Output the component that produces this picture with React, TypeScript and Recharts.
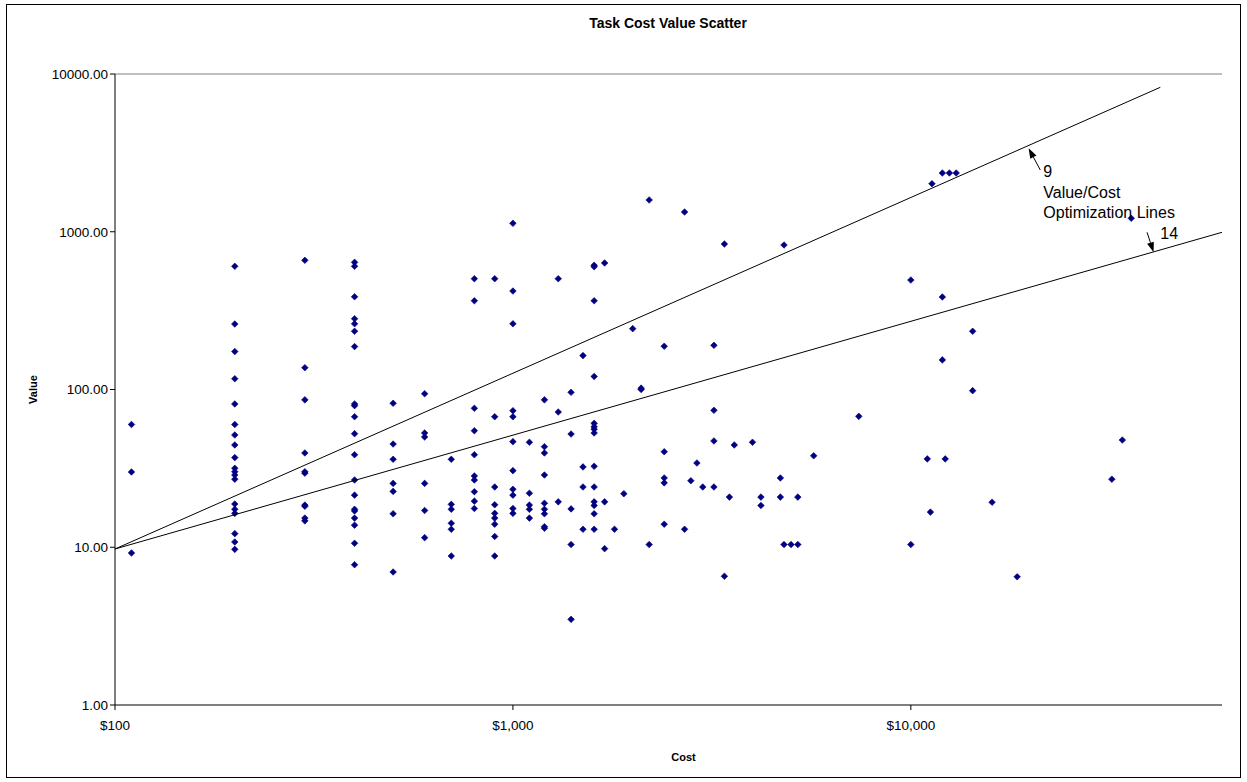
import React from 'react';
import {
  ScatterChart,
  Scatter,
  XAxis,
  YAxis,
  ReferenceLine,
  ReferenceDot,
  Label,
} from 'recharts';

// task cost levels and the values of the tasks at each cost
const costLevels = [
  110, 200, 300, 400, 500, 600, 700, 800, 900, 1000, 1100, 1200, 1300, 1400,
  1500, 1600, 1700, 1800, 1900, 2000, 2100, 2200, 2400, 2700, 2800, 2900, 3000,
  3200, 3400, 3500, 3600, 4000, 4200, 4700, 4800, 5000, 5200, 5700, 7400,
  10000, 11000, 11200, 11300, 12000, 12200, 12500, 13000, 14300, 16000, 18500,
  32000, 34000, 35800,
];

const taskValues: number[][] = [
  [60, 30, 9.2],
  [604, 260, 174, 117, 81, 60, 51.5, 44.5, 37, 31.7, 30.1, 28.7, 27, 18.8, 17.4, 16.4, 12.2, 10.8, 9.7],
  [659, 137.5, 86, 39.6, 30.1, 29.5, 18.5, 18.2, 15.3, 14.7],
  [640, 604, 387, 281, 261, 234, 187, 81, 79, 67.2, 52.5, 38.6, 26.7, 21.4, 17.4, 17, 15.3, 13.8, 10.6, 7.75],
  [81.8, 45.1, 36.1, 25.4, 22.6, 16.3, 6.97],
  [94, 53, 50, 25.4, 17.1, 11.5],
  [36.1, 18.7, 17.4, 14.2, 13.0, 8.8],
  [504, 365, 76, 54.8, 38.6, 28.3, 26.7, 22.5, 19.6, 17.6],
  [504, 67.2, 24.1, 18.6, 16.4, 15.3, 14.0, 11.7, 8.8],
  [1131, 421, 261, 73.4, 67.2, 46.7, 30.6, 23.3, 21.4, 17.6, 16.4],
  [46.3, 22.0, 18.5, 17.4, 15.3],
  [86, 43.4, 39.6, 28.7, 19.0, 17.4, 16.3, 13.5, 13.2],
  [504, 72, 19.4],
  [96, 52.2, 17.5, 10.4, 3.49],
  [164, 32.3, 24.1, 13.0],
  [613, 600, 365, 121, 61, 58, 56, 53, 32.6, 24.1, 19.4, 18.4, 16.3, 13.0],
  [634, 19.4, 9.8],
  [13.0],
  [21.85],
  [243],
  [102, 100],
  [1590, 10.4],
  [188, 40.3, 27.5, 25.6, 14.0],
  [1334, 13.0],
  [26.4],
  [34.2],
  [24.1],
  [190.6, 73.8, 47.2, 24.1],
  [836, 6.55],
  [20.8],
  [44.5],
  [46.3],
  [20.8, 18.4],
  [27.5, 20.8],
  [824, 10.4],
  [10.4],
  [20.8, 10.4],
  [38.0],
  [67.6],
  [494, 10.4],
  [36.3],
  [16.7],
  [2017],
  [2357, 386, 154],
  [36.3],
  [2357],
  [2357],
  [234, 98.3],
  [19.3],
  [6.5],
  [27],
  [47.8],
  [1217],
];

// value/cost optimization lines (end points)
const lineCost9 = [100, 42360];
const lineValue9 = [9.75, 8236];
const lineCost14 = [100, 60530];
const lineValue14 = [9.75, 992];

const costTicks = [100, 1000, 10000];
const valueTicks = [1, 10, 100, 1000, 10000];

const FONT = '"Liberation Sans", Arial, sans-serif';

const points = costLevels.flatMap((c, i) => taskValues[i].map((v) => ({ x: c, y: v })));
const line9 = lineCost9.map((c, i) => ({ x: c, y: lineValue9[i] }));
const line14 = lineCost14.map((c, i) => ({ x: c, y: lineValue14[i] }));

const Diamond = (props: any) => {
  const { cx, cy } = props;
  const h = 3.3;
  return (
    <polygon
      points={`${cx},${cy - h} ${cx + h},${cy} ${cx},${cy + h} ${cx - h},${cy}`}
      fill="#000080"
      stroke="#000080"
      strokeWidth={0.6}
    />
  );
};

const Arrow = (props: any) => {
  const { x1, y1, x2, y2 } = props;
  const ang = Math.atan2(y2 - y1, x2 - x1);
  const len = 10;
  const w = 3.5;
  const bx = x2 - len * Math.cos(ang);
  const by = y2 - len * Math.sin(ang);
  const s = Math.sin(ang);
  const c = Math.cos(ang);
  return (
    <g>
      <line x1={x1} y1={y1} x2={bx} y2={by} stroke="#000" strokeWidth={1} />
      <polygon
        points={`${x2},${y2} ${bx - w * s},${by + w * c} ${bx + w * s},${by - w * c}`}
        fill="#000"
      />
    </g>
  );
};

const noDot = () => <g />;

const NoteText = (lines: string[]) => (props: any) => (
  <text x={props.cx} y={props.cy} fontSize={16} fontFamily={FONT} fill="#000">
    {lines.map((t, i) => (
      <tspan key={i} x={props.cx} dy={i === 0 ? 0 : 20.5}>
        {t}
      </tspan>
    ))}
  </text>
);

export default function App() {
  return (
    <div
      style={{
        position: 'absolute',
        left: 0,
        top: 0,
        width: 1247,
        height: 782,
        background: '#fff',
        fontFamily: FONT,
      }}
    >
      <div
        style={{
          position: 'absolute',
          left: 6,
          top: 4,
          right: 6,
          bottom: 4,
          border: '1px solid #000',
        }}
      />
      <div
        style={{
          position: 'absolute',
          left: 468,
          width: 400,
          top: 15,
          textAlign: 'center',
          fontWeight: 'bold',
          fontSize: 14,
        }}
      >
        Task Cost Value Scatter
      </div>
      <div style={{ position: 'absolute', left: 0, top: 0 }}>
        <ScatterChart width={1247} height={782} margin={{ top: 74, right: 25, bottom: 0, left: 0 }}>
          <XAxis
            dataKey="x"
            type="number"
            scale="log"
            domain={[100, 60530]}
            allowDataOverflow
            ticks={costTicks}
            tickFormatter={(v: number) => `$${v.toLocaleString('en-US')}`}
            height={77}
            stroke="#000"
            tickSize={5}
            tickMargin={10}
            tick={{ fill: '#000', fontSize: 13.5, fontFamily: FONT }}
          >
            <Label
              value="Cost"
              position="insideBottom"
              offset={21}
              dx={15}
              style={{ fontSize: 11, fontWeight: 'bold', fill: '#000', fontFamily: FONT }}
            />
          </XAxis>
          <YAxis
            dataKey="y"
            type="number"
            scale="log"
            domain={[1, 10000]}
            allowDataOverflow
            ticks={valueTicks}
            tickFormatter={(v: number) => v.toFixed(2)}
            width={115}
            stroke="#000"
            tickSize={5}
            tickMargin={2}
            tick={{ fill: '#000', fontSize: 13.5, fontFamily: FONT }}
          >
            <Label
              value="Value"
              angle={-90}
              position="insideLeft"
              offset={33}
              style={{ fontSize: 11, fontWeight: 'bold', fill: '#000', fontFamily: FONT, textAnchor: 'middle' }}
            />
          </YAxis>
          <ReferenceLine y={10000} stroke="#808080" strokeWidth={1} />
          <Scatter data={points} shape={Diamond} isAnimationActive={false} />
          <Scatter
            data={line9}
            line={{ stroke: '#000', strokeWidth: 1 }}
            shape={noDot}
            isAnimationActive={false}
          />
          <Scatter
            data={line14}
            line={{ stroke: '#000', strokeWidth: 1 }}
            shape={noDot}
            isAnimationActive={false}
          />
          <ReferenceLine
            segment={[{ x: 21150, y: 2463 }, { x: 19770, y: 3381 }]}
            shape={Arrow}
          />
          <ReferenceLine
            segment={[{ x: 39230, y: 992 }, { x: 40740, y: 741 }]}
            shape={Arrow}
          />
          <ReferenceDot x={21520} y={2223} r={0} shape={NoteText(['9', 'Value/Cost', 'Optimization Lines'])} />
          <ReferenceDot x={42360} y={895} r={0} shape={NoteText(['14'])} />
        </ScatterChart>
      </div>
    </div>
  );
}
